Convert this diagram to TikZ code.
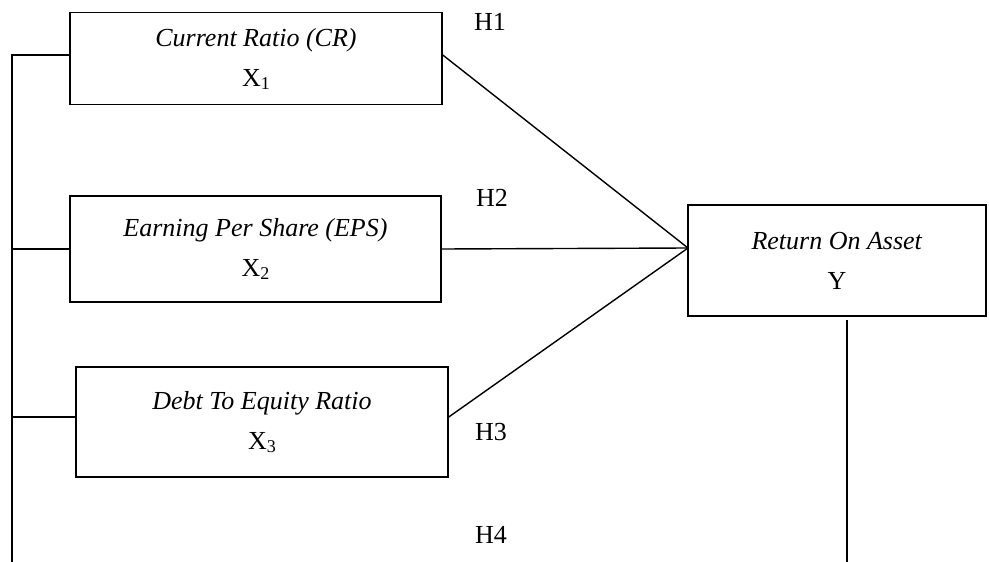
\documentclass[tikz,border=0pt]{standalone}
\usepackage{fontspec}
\setmainfont{Liberation Serif}
\begin{document}
\begin{tikzpicture}[x=1pt,y=-1pt,
  box/.style={draw,line width=1.5pt,inner sep=0pt,align=center,font=\fontsize{26}{40}\selectfont},
  lbl/.style={font=\fontsize{26}{30}\selectfont,inner sep=0pt},
  ln/.style={line width=1.4pt}]
\useasboundingbox (0,0) rectangle (989,562);
\newcommand{\xsub}[1]{X\raisebox{-3pt}{\fontsize{18}{18}\selectfont #1}}
\node[box,minimum width=372pt,minimum height=92pt] (b1) at (256,58.5) {\textit{Current Ratio (CR)}\\\xsub{1}};
\node[box,minimum width=371pt,minimum height=106pt] (b2) at (255.5,249) {\textit{Earning Per Share (EPS)}\\\xsub{2}};
\node[box,minimum width=372pt,minimum height=110pt] (b3) at (262,422) {\textit{Debt To Equity Ratio}\\\xsub{3}};
\node[box,minimum width=298pt,minimum height=111pt] (y) at (837,260.5) {\textit{Return On Asset}\\Y};
\coordinate (c) at (688,248);
\coordinate (l0) at (12,562);
\coordinate (l1) at (12,55);
\coordinate (r0) at (847,562);
\coordinate (r1) at (847,320);
\draw[ln] (l0) -- (l1) -- (b1.west |- l1);
\draw[ln] (12,249) -- (b2.west |- 0,249);
\draw[ln] (12,417) -- (b3.west |- 0,417);
\draw[ln] (b1.east |- 0,55) -- (c);
\draw[ln] (b2.east |- 0,249) -- (c);
\draw[ln] (b3.east |- 0,417) -- (c);
\draw[ln] (r1) -- (r0);
\node[lbl] (h1) at (490,22) {H1};
\node[lbl] (h2) at (492,198) {H2};
\node[lbl] (h3) at (491,432) {H3};
\node[lbl] (h4) at (491,535) {H4};
\end{tikzpicture}
\end{document}
